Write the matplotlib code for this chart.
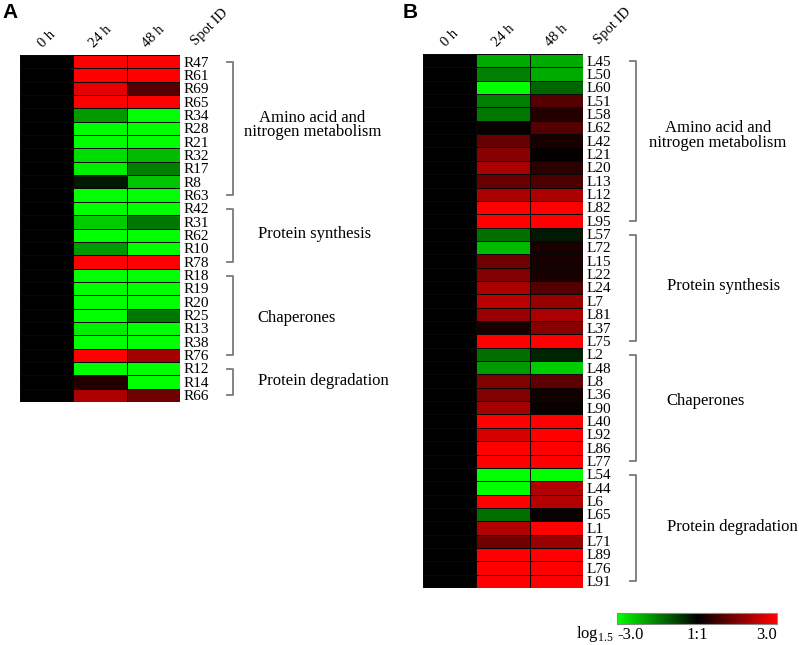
import matplotlib
matplotlib.use('Agg')
import matplotlib.pyplot as plt
from matplotlib.colors import LinearSegmentedColormap, Normalize
import matplotlib.cm as cm
import numpy as np

plt.rcParams['font.family'] = 'Liberation Serif'
plt.rcParams['mathtext.fontset'] = 'custom'
plt.rcParams['mathtext.rm'] = 'Liberation Serif'

# ---- data (log1.5 ratio vs 0 h) ----
times = ['0 h', '24 h', '48 h']

ids_a = ['R47', 'R61', 'R69', 'R65', 'R34', 'R28', 'R21', 'R32', 'R17', 'R8', 'R63',
         'R42', 'R31', 'R62', 'R10', 'R78',
         'R18', 'R19', 'R20', 'R25', 'R13', 'R38', 'R76',
         'R12', 'R14', 'R66']
h24_a = [3, 3, 2.7, 3, -1.8, -3, -3, -2.6, -2.8, -0.3, -3,
         -3, -2.4, -3, -1.8, 3,
         -3, -3, -3, -3, -2.8, -3, 3,
         -3, 0.4, 2.0]
h48_a = [3, 3, 1.0, 3, -3, -3, -3, -2.2, -1.5, -2.3, -3,
         -3, -1.4, -3, -3, 3,
         -3, -3, -3, -1.4, -3, -3, 1.9,
         -3, -3, 1.3]
groups_a = [11, 5, 7, 3]

ids_b = ['L45', 'L50', 'L60', 'L51', 'L58', 'L62', 'L42', 'L21', 'L20', 'L13', 'L12', 'L82', 'L95',
         'L57', 'L72', 'L15', 'L22', 'L24', 'L7', 'L81', 'L37', 'L75',
         'L2', 'L48', 'L8', 'L36', 'L90', 'L40', 'L92', 'L86', 'L77',
         'L54', 'L44', 'L6', 'L65', 'L1', 'L71', 'L89', 'L76', 'L91']
h24_b = [-2.0, -1.5, -3, -1.5, -1.4, 0.1, 1.2, 1.6, 2.0, 1.2, 2.0, 3, 3,
         -1.3, -2.2, 1.3, 1.5, 2.0, 2.2, 1.8, 0.3, 3,
         -1.3, -1.8, 1.5, 1.5, 1.9, 3, 2.5, 3, 3,
         -3, -3, 3, -1.3, 2.1, 1.3, 3, 3, 3]
h48_b = [-2.0, -2.0, -1.2, 1.0, 0.4, 1.0, 0.3, 0.05, 0.5, 0.9, 2.0, 3, 3,
         -0.3, 0.3, 0.3, 0.3, 1.0, 1.8, 2.0, 1.6, 3,
         -0.4, -2.4, 1.1, 0.2, 0.1, 3, 3, 3, 3,
         -3, 2.1, 2.1, 0.1, 3, 1.8, 3, 3, 3]
groups_b = [13, 9, 9, 9]

group_names = ['Amino acid and\nnitrogen metabolism', 'Protein synthesis',
               'Chaperones', 'Protein degradation']

cmap = LinearSegmentedColormap.from_list('gkr', ['#00ff00', '#000000', '#ff0000'])
norm = Normalize(-3, 3)

W, H = 799, 645
fig = plt.figure(figsize=(W / 100, H / 100), dpi=100)


def draw_panel(px, py0, py1, ids, h24, h48, groups, label_pos, letter, letter_x):
    ax = fig.add_axes([px / W, 1 - py1 / H, 160 / W, (py1 - py0) / H])
    n = len(ids)
    mat = np.column_stack([np.zeros(n), h24, h48])
    ax.pcolormesh(np.arange(4), np.arange(n + 1), mat, cmap=cmap, norm=norm,
                  edgecolors='#080808', linewidth=0.6)
    ax.set_xlim(0, 3)
    ax.set_ylim(n, 0)
    ax.axis('off')

    for i, t in enumerate(times):
        ax.text(i + 0.5, -0.4, t, rotation=45, ha='center', va='bottom', fontsize=10.5)
    ax.text(3.55, -0.5, 'Spot ID', rotation=45, ha='center', va='bottom', fontsize=10.5)

    for i, s in enumerate(ids):
        ax.text(3.06, i + 0.6, s, ha='left', va='center', fontsize=11)

    start = 0
    for g, size in enumerate(groups):
        top = start + 0.55
        bot = start + size - 0.5
        ax.plot([3.88, 3.99, 3.99, 3.88], [top, top, bot, bot], color='#7a7a7a',
                lw=1.3, clip_on=False)
        x, y, ha = label_pos[g]
        ax.text(x, y, group_names[g], ha=ha, va='center', fontsize=12,
                linespacing=0.85, multialignment='center')
        start += size

    fig.text(letter_x / W, 1 - 12 / H, letter, family='Liberation Sans',
             fontweight='bold', fontsize=15, ha='left', va='center')


draw_panel(20, 55, 402, ids_a, h24_a, h48_a, groups_a,
           [(5.48, 5.25, 'center'), (4.46, 13.4, 'left'),
            (4.46, 19.7, 'left'), (4.46, 24.4, 'left')], 'A', 2)
draw_panel(423, 54, 588, ids_b, h24_b, h48_b, groups_b,
           [(5.53, 6.1, 'center'), (4.57, 17.4, 'left'),
            (4.57, 26.0, 'left'), (4.57, 35.4, 'left')], 'B', 403)

# colour key
cax = fig.add_axes([617 / W, 1 - 624 / H, 160 / W, 11 / H])
cb = fig.colorbar(cm.ScalarMappable(norm=norm, cmap=cmap), cax=cax,
                  orientation='horizontal', ticks=[-3, 0, 3])
cb.ax.set_xticklabels(['-3.0', '1:1', '3.0'], fontsize=12)
cb.ax.tick_params(length=0, pad=2)
labs = cb.ax.get_xticklabels()
labs[0].set_ha('left')
labs[2].set_ha('right')
cb.outline.set_edgecolor('#888888')
cb.outline.set_linewidth(0.8)
fig.text(614 / W, 1 - 638 / H, r'log$_{\mathrm{1.5}}$', ha='right', va='baseline',
         fontsize=12)

fig.savefig('out.png', dpi=100)
